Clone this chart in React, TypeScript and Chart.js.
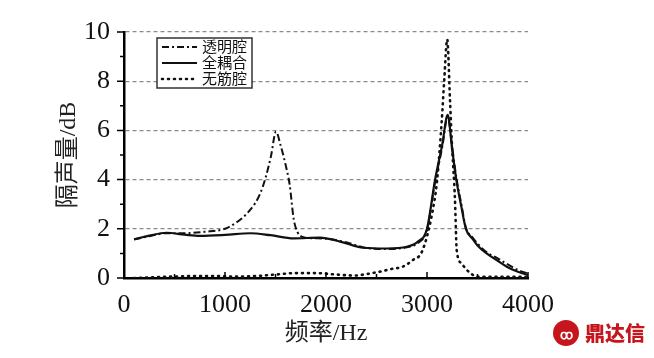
import { useEffect, useRef } from 'react';
import { Chart, registerables } from 'chart.js';
Chart.register(...registerables);

const SERIES_NAMES = ['透明腔', '全耦合', '无筋腔'];

const FREQ_TOUMING = [100, 250, 420, 600, 800, 1000, 1100, 1200, 1300, 1350, 1400, 1455, 1505, 1550, 1600, 1640, 1680, 1720, 1760, 1850, 2000, 2200, 2400, 2600, 2800, 2920, 3000, 3080, 3150, 3205, 3250, 3290, 3340, 3385, 3450, 3500, 3590, 3700, 3800, 3900, 4000];
const SR_TOUMING = [1.57, 1.7, 1.82, 1.82, 1.88, 2.0, 2.22, 2.55, 3.05, 3.45, 4.05, 4.95, 5.95, 5.4, 4.6, 3.8, 2.4, 1.85, 1.68, 1.62, 1.6, 1.45, 1.22, 1.18, 1.25, 1.45, 1.95, 3.9, 5.3, 6.55, 5.3, 4.1, 3.0, 2.05, 1.65, 1.4, 1.05, 0.8, 0.55, 0.33, 0.18];

const FREQ_QUANOUHE = [100, 250, 420, 600, 750, 1000, 1250, 1450, 1680, 1940, 2140, 2370, 2600, 2800, 2910, 3000, 3080, 3150, 3205, 3250, 3290, 3340, 3385, 3450, 3500, 3590, 3700, 3790, 3900, 4000];
const SR_QUANOUHE = [1.57, 1.72, 1.84, 1.76, 1.71, 1.75, 1.82, 1.74, 1.61, 1.64, 1.48, 1.23, 1.2, 1.27, 1.48, 2.0, 4.0, 5.4, 6.63, 5.2, 4.0, 2.9, 2.0, 1.6, 1.32, 1.0, 0.7, 0.46, 0.25, 0.12];

const FREQ_WUJIN = [100, 300, 500, 700, 900, 1100, 1300, 1500, 1700, 1900, 2070, 2290, 2400, 2535, 2650, 2760, 2860, 2950, 3050, 3100, 3146, 3170, 3200, 3228, 3245, 3277, 3294, 3340, 3393, 3505, 3700, 3850, 4000];
const SR_WUJIN = [0.0, 0.03, 0.06, 0.08, 0.08, 0.06, 0.08, 0.14, 0.2, 0.2, 0.15, 0.1, 0.16, 0.26, 0.37, 0.46, 0.73, 1.07, 2.6, 3.98, 6.4, 8.0, 9.7, 7.2, 5.6, 3.17, 1.14, 0.6, 0.33, 0.05, 0.05, 0.05, 0.05];

const Y_MAJOR_TICKS = [0, 2, 4, 6, 8, 10];
const Y_MINOR_TICKS = [1, 3, 5, 7, 9];
const X_MAJOR_TICKS = [0, 1000, 2000, 3000, 4000];
const X_MINOR_TICKS = [500, 1500, 2500, 3500];

const X_TITLE = '频率/Hz';
const Y_TITLE = '隔声量/dB';

const FONT = "'Liberation Serif', 'Noto Sans CJK SC', serif";
const DASHES: number[][] = [[7, 3, 2, 3], [], [1, 5]];
const WIDTHS = [2, 2.2, 2.6];

const toPoints = (xs: number[], ys: number[]) => xs.map((x, i) => ({ x, y: ys[i] }));

const decorPlugin = {
  id: 'decor',
  afterDraw(chart: any) {
    const { ctx, scales } = chart;
    const x = scales.x;
    const y = scales.y;
    const x0 = x.getPixelForValue(0);
    const y0 = y.getPixelForValue(0);
    ctx.save();
    ctx.strokeStyle = '#000';
    ctx.lineWidth = 1.5;
    ctx.setLineDash([]);
    ctx.beginPath();
    for (const v of Y_MAJOR_TICKS) {
      const py = y.getPixelForValue(v);
      ctx.moveTo(x0 - 7, py);
      ctx.lineTo(x0, py);
    }
    for (const v of Y_MINOR_TICKS) {
      const py = y.getPixelForValue(v);
      ctx.moveTo(x0 - 4, py);
      ctx.lineTo(x0, py);
    }
    for (const v of X_MAJOR_TICKS) {
      const px = x.getPixelForValue(v);
      ctx.moveTo(px, y0);
      ctx.lineTo(px, y0 - 6);
    }
    for (const v of X_MINOR_TICKS) {
      const px = x.getPixelForValue(v);
      ctx.moveTo(px, y0);
      ctx.lineTo(px, y0 - 4);
    }
    ctx.stroke();

    // legend
    const bx = 157, by = 38, bw = 95, bh = 50;
    ctx.fillStyle = '#fff';
    ctx.fillRect(bx, by, bw, bh);
    ctx.strokeStyle = '#333';
    ctx.lineWidth = 1.5;
    ctx.strokeRect(bx, by, bw, bh);
    const rows = [47, 63, 79];
    chart.data.datasets.forEach((ds: any, i: number) => {
      const ry = rows[i];
      ctx.strokeStyle = '#111';
      ctx.lineWidth = WIDTHS[i];
      ctx.setLineDash(DASHES[i]);
      ctx.lineCap = i === 2 ? 'round' : 'butt';
      ctx.beginPath();
      ctx.moveTo(162, ry);
      ctx.lineTo(197, ry);
      ctx.stroke();
      ctx.setLineDash([]);
      ctx.fillStyle = '#111';
      ctx.font = `15px ${FONT}`;
      ctx.textBaseline = 'middle';
      ctx.textAlign = 'left';
      ctx.fillText(ds.label, 202, ry + 1);
    });
    ctx.restore();
  },
};

export default function App() {
  const ref = useRef<HTMLCanvasElement | null>(null);
  useEffect(() => {
    if (!ref.current) return;
    const seriesX = [FREQ_TOUMING, FREQ_QUANOUHE, FREQ_WUJIN];
    const seriesY = [SR_TOUMING, SR_QUANOUHE, SR_WUJIN];
    const chart = new Chart(ref.current, {
      type: 'line',
      data: {
        datasets: SERIES_NAMES.map((name, i) => ({
          label: name,
          data: toPoints(seriesX[i], seriesY[i]),
          borderColor: '#111',
          borderWidth: WIDTHS[i],
          borderDash: DASHES[i],
          borderCapStyle: i === 2 ? 'round' : 'butt',
          pointRadius: 0,
          fill: false,
          cubicInterpolationMode: 'monotone',
        })),
      },
      options: {
        responsive: false,
        animation: false,
        layout: { padding: { top: 32, right: 126, left: 0, bottom: 0 } },
        plugins: { legend: { display: false }, tooltip: { enabled: false } },
        scales: {
          x: {
            type: 'linear',
            min: 0,
            max: 4000,
            afterFit: (s: any) => { s.height = 80; },
            ticks: { stepSize: 1000, color: '#111', font: { family: FONT, size: 26 }, padding: 12, maxRotation: 0, callback: (v: any) => String(v) },
            grid: { display: true, drawOnChartArea: false, drawTicks: false },
            border: { display: true, color: '#000', width: 2.5 },
            title: { display: true, text: X_TITLE, color: '#222', font: { family: FONT, size: 24 }, padding: { top: 0, bottom: 10 } },
          },
          y: {
            min: 0,
            max: 10,
            afterFit: (s: any) => { s.width = 124; },
            ticks: { stepSize: 2, color: '#111', font: { family: FONT, size: 26 }, padding: 14, callback: (v: any) => String(v) },
            grid: { color: (c: any) => (c.tick && c.tick.value === 0 ? 'rgba(0,0,0,0)' : '#8a8a8a'), lineWidth: 1.2, drawTicks: false },
            border: { display: true, color: '#000', width: 2.5, dash: [4, 3] },
            title: { display: true, text: Y_TITLE, color: '#222', font: { family: FONT, size: 24 }, padding: { top: 54, bottom: 0 } },
          },
        },
      },
      plugins: [decorPlugin],
    } as any);
    return () => chart.destroy();
  }, []);

  return (
    <div style={{ position: 'absolute', left: 0, top: 0, width: 654, height: 358, background: '#fff' }}>
      <canvas ref={ref} width={654} height={358} style={{ width: 654, height: 358, display: 'block' }} />
      <div style={{ position: 'absolute', left: 553, top: 320, display: 'flex', alignItems: 'center', gap: 6 }}>
        <div style={{ width: 26, height: 26, borderRadius: 13, background: '#c4161c', color: '#fff', fontSize: 13, fontWeight: 700, display: 'flex', alignItems: 'center', justifyContent: 'center', fontFamily: "'Noto Sans CJK SC', sans-serif" }}>ꝏ</div>
        <span style={{ color: '#c4161c', fontWeight: 900, fontSize: 20, fontFamily: "'Noto Sans CJK SC', sans-serif", lineHeight: '24px' }}>鼎达信</span>
      </div>
    </div>
  );
}
